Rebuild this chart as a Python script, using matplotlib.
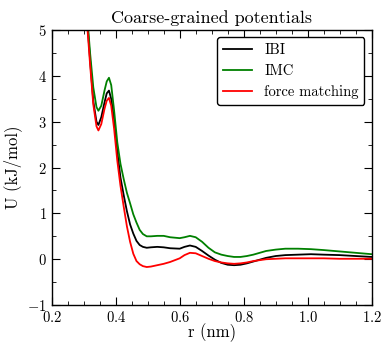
import matplotlib
matplotlib.use('Agg')
import matplotlib.pyplot as plt
from matplotlib.ticker import MultipleLocator

plt.rcParams['font.family'] = 'serif'
plt.rcParams['font.serif'] = ['cmr10']
plt.rcParams['mathtext.fontset'] = 'cm'
plt.rcParams['axes.formatter.use_mathtext'] = True

# distance grid (nm)
r = [0.300, 0.310, 0.320, 0.330, 0.340, 0.346, 0.355, 0.365, 0.372, 0.379,
     0.386, 0.395, 0.405, 0.415, 0.425, 0.435, 0.445, 0.455, 0.465, 0.475,
     0.485, 0.497, 0.51, 0.53, 0.55, 0.57, 0.60, 0.615, 0.632, 0.65,
     0.67, 0.69, 0.71, 0.73, 0.75, 0.77, 0.79, 0.81, 0.83, 0.85,
     0.87, 0.90, 0.93, 0.97, 1.01, 1.05, 1.10, 1.15, 1.20]

# potentials (kJ/mol)
u_ibi = [6.4, 5.3, 4.35, 3.45, 3.00, 2.93, 3.10, 3.42, 3.62, 3.68,
         3.50, 3.05, 2.35, 1.78, 1.40, 1.05, 0.76, 0.56, 0.40, 0.31,
         0.27, 0.25, 0.26, 0.27, 0.26, 0.24, 0.23, 0.27, 0.30, 0.27,
         0.18, 0.08, -0.01, -0.08, -0.12, -0.13, -0.12, -0.09, -0.05, -0.01,
         0.03, 0.07, 0.09, 0.10, 0.11, 0.10, 0.09, 0.07, 0.05]

u_imc = [6.6, 5.4, 4.5, 3.75, 3.32, 3.24, 3.35, 3.68, 3.88, 3.96,
         3.80, 3.25, 2.55, 2.08, 1.75, 1.45, 1.22, 0.98, 0.80, 0.64,
         0.55, 0.50, 0.50, 0.51, 0.51, 0.48, 0.46, 0.48, 0.51, 0.48,
         0.38, 0.25, 0.15, 0.10, 0.07, 0.05, 0.05, 0.07, 0.10, 0.14,
         0.18, 0.21, 0.23, 0.23, 0.22, 0.20, 0.17, 0.14, 0.11]

u_fm = [6.3, 5.2, 4.25, 3.38, 2.90, 2.81, 2.95, 3.28, 3.46, 3.52,
        3.35, 2.85, 2.15, 1.60, 1.15, 0.72, 0.38, 0.12, -0.04, -0.11,
        -0.15, -0.17, -0.16, -0.13, -0.10, -0.06, 0.02, 0.09, 0.14, 0.13,
        0.07, 0.01, -0.04, -0.07, -0.09, -0.10, -0.09, -0.07, -0.04, -0.02,
        0.00, 0.01, 0.02, 0.02, 0.02, 0.02, 0.01, 0.01, 0.01]

fig = plt.figure(figsize=(3.84, 3.42), dpi=100)
ax = fig.add_axes([0.1346, 0.108, 0.8334, 0.804])

ax.plot(r, u_ibi, color='black', lw=1.3, label='IBI')
ax.plot(r, u_imc, color='green', lw=1.3, label='IMC')
ax.plot(r, u_fm, color='red', lw=1.3, label='force matching')

ax.set_xlim(0.2, 1.2)
ax.set_ylim(-1, 5)
ax.xaxis.set_major_locator(MultipleLocator(0.2))
ax.xaxis.set_minor_locator(MultipleLocator(0.05))
ax.yaxis.set_major_locator(MultipleLocator(1))
ax.yaxis.set_minor_locator(MultipleLocator(0.5))
ax.tick_params(which='both', direction='in', top=True, right=True, labelsize=10.5)
ax.tick_params(which='major', length=6)
ax.tick_params(which='minor', length=3)
for s in ax.spines.values():
    s.set_linewidth(1.0)

ax.set_xlabel('r (nm)', fontsize=12, labelpad=-1.5)
ax.set_ylabel('U (kJ/mol)', fontsize=12, labelpad=4)
ax.set_title('Coarse-grained potentials', fontsize=13, pad=5)

leg = ax.legend(loc='upper right', fontsize=10.5, handlelength=2.0,
                fancybox=True, framealpha=1)
leg.get_frame().set_edgecolor('black')

fig.savefig('out.png', dpi=100)
